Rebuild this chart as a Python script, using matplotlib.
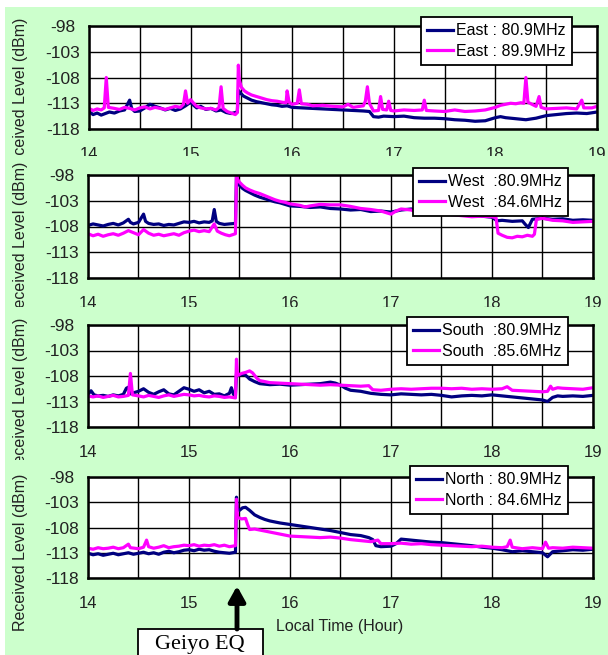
import numpy as np
import matplotlib
matplotlib.use("Agg")
import matplotlib.pyplot as plt
from matplotlib.patches import Rectangle

# ---- data (hour of day, received level in dBm) ----
east_a_t = [14.00, 14.04, 14.08, 14.12, 14.16, 14.20, 14.25, 14.30, 14.35, 14.40, 14.42, 14.45, 14.50,
            14.55, 14.60, 14.65, 14.70, 14.75, 14.80, 14.85, 14.90, 14.95, 15.00, 15.03, 15.06, 15.10,
            15.15, 15.20, 15.25, 15.30, 15.35, 15.40, 15.46, 15.47, 15.49, 15.52, 15.56, 15.60, 15.65,
            15.70, 15.75, 15.80, 15.85, 15.90, 15.95, 16.00, 16.1, 16.2, 16.3, 16.4, 16.5, 16.6, 16.7,
            16.76, 16.80, 16.85, 16.9, 17.0, 17.1, 17.2, 17.3, 17.4, 17.5, 17.6, 17.7, 17.8, 17.9, 18.0,
            18.05, 18.1, 18.2, 18.3, 18.4, 18.5, 18.6, 18.7, 18.8, 18.9, 19.0]
east_a_v = [-114.6, -115.2, -114.9, -115.3, -115.0, -114.7, -114.9, -114.5, -114.3, -112.4, -114.0, -114.6,
            -114.5, -113.9, -113.2, -113.6, -113.9, -114.3, -114.0, -114.4, -114.1, -113.5, -112.8, -113.4,
            -113.9, -113.6, -114.2, -114.0, -114.5, -114.3, -114.8, -115.0, -114.7, -110.5, -111.0, -111.6,
            -112.0, -112.4, -112.7, -112.9, -113.1, -113.3, -113.4, -113.6, -113.5, -113.8, -113.9, -114.0,
            -114.1, -114.2, -114.3, -114.4, -114.5, -114.6, -115.6, -115.7, -115.5, -115.6, -115.5, -115.8,
            -115.9, -115.9, -116.0, -116.2, -116.3, -116.5, -116.4, -115.8, -115.6, -115.8, -116.0, -116.2,
            -115.9, -115.4, -115.2, -115.0, -114.9, -115.0, -114.7]

east_b_t = [14.00, 14.04, 14.08, 14.12, 14.15, 14.17, 14.19, 14.25, 14.30, 14.35, 14.40, 14.45, 14.50,
            14.55, 14.60, 14.65, 14.70, 14.75, 14.80, 14.85, 14.90, 14.93, 14.95, 14.97, 15.00, 15.03,
            15.06, 15.10, 15.15, 15.20, 15.25, 15.28, 15.30, 15.32, 15.36, 15.40, 15.44, 15.46, 15.47,
            15.48, 15.50, 15.53, 15.56, 15.60, 15.65, 15.70, 15.75, 15.80, 15.85, 15.90, 15.94, 15.95,
            15.97, 16.00, 16.05, 16.07, 16.09, 16.15, 16.2, 16.3, 16.4, 16.5, 16.55, 16.6, 16.7, 16.72,
            16.74, 16.76, 16.80, 16.85, 16.87, 16.89, 16.93, 16.95, 16.97, 17.0, 17.1, 17.2, 17.28, 17.30,
            17.32, 17.4, 17.5, 17.6, 17.7, 17.8, 17.9, 18.0, 18.05, 18.1, 18.15, 18.2, 18.25, 18.28, 18.30,
            18.32, 18.36, 18.40, 18.43, 18.45, 18.5, 18.6, 18.7, 18.8, 18.85, 18.87, 18.95, 19.0]
east_b_v = [-114.0, -114.4, -114.1, -114.3, -113.9, -108.0, -113.8, -114.0, -114.2, -113.8, -114.0, -114.3,
            -113.9, -113.7, -114.1, -113.8, -114.0, -114.2, -113.9, -113.6, -113.8, -113.2, -110.6, -113.0,
            -112.3, -113.0, -113.6, -113.9, -114.1, -114.0, -114.3, -113.8, -109.8, -114.0, -114.6, -114.9,
            -115.2, -114.8, -105.6, -108.5, -109.9, -110.6, -111.0, -111.4, -111.7, -112.0, -112.3, -112.5,
            -112.6, -112.8, -112.9, -110.6, -112.8, -113.2, -113.0, -110.4, -113.1, -113.2, -113.5, -113.4,
            -113.6, -113.7, -113.2, -113.8, -113.5, -112.6, -109.8, -113.0, -114.5, -114.4, -111.7, -114.2,
            -114.3, -112.6, -114.4, -114.5, -114.3, -114.4, -114.3, -112.4, -114.4, -114.5, -114.6, -114.3,
            -114.6, -114.5, -114.3, -113.8, -113.4, -113.2, -113.0, -113.1, -112.9, -113.0, -108.0, -112.8,
            -113.2, -113.6, -111.7, -113.8, -114.1, -114.0, -113.9, -114.1, -112.4, -113.9, -113.9, -113.6]

west_a_t = [14.00, 14.05, 14.1, 14.15, 14.2, 14.25, 14.3, 14.35, 14.40, 14.42, 14.45, 14.50, 14.55, 14.57,
            14.6, 14.65, 14.7, 14.75, 14.8, 14.85, 14.9, 14.95, 15.0, 15.05, 15.1, 15.15, 15.2, 15.23,
            15.25, 15.27, 15.3, 15.35, 15.4, 15.46, 15.47, 15.48, 15.50, 15.53, 15.56, 15.60, 15.65, 15.70,
            15.75, 15.80, 15.85, 15.9, 15.95, 16.0, 16.1, 16.2, 16.3, 16.4, 16.5, 16.6, 16.7, 16.8, 16.9,
            17.0, 17.1, 17.2, 17.3, 17.4, 17.5, 17.6, 17.7, 17.8, 17.9, 18.0, 18.05, 18.1, 18.2, 18.3,
            18.33, 18.36, 18.40, 18.45, 18.5, 18.6, 18.7, 18.8, 18.9, 19.0]
west_a_v = [-107.8, -107.5, -107.7, -107.9, -107.6, -107.4, -107.7, -107.3, -106.6, -107.2, -107.5, -107.2,
            -105.6, -107.0, -107.4, -107.6, -107.5, -107.8, -107.6, -107.7, -107.4, -107.1, -107.2, -107.0,
            -107.3, -107.1, -107.2, -106.9, -104.7, -107.0, -107.4, -107.6, -107.5, -107.4, -98.2, -99.0,
            -100.0, -100.6, -101.0, -101.4, -101.9, -102.3, -102.6, -102.9, -103.2, -103.4, -103.7, -104.0,
            -104.1, -104.3, -104.2, -104.5, -104.6, -104.8, -104.7, -105.1, -105.0, -105.2, -104.8, -104.6,
            -104.9, -105.1, -105.3, -105.5, -105.7, -105.9, -106.0, -106.2, -106.9, -106.8, -107.0, -106.9,
            -107.6, -108.2, -106.6, -106.5, -106.4, -106.6, -106.5, -106.8, -106.7, -106.8]

west_b_t = [14.00, 14.05, 14.1, 14.15, 14.2, 14.25, 14.3, 14.35, 14.4, 14.45, 14.5, 14.55, 14.6, 14.65,
            14.7, 14.75, 14.8, 14.85, 14.9, 14.95, 15.0, 15.05, 15.1, 15.15, 15.2, 15.25, 15.28, 15.32,
            15.36, 15.4, 15.46, 15.47, 15.48, 15.50, 15.53, 15.56, 15.60, 15.65, 15.70, 15.75, 15.80, 15.85,
            15.9, 15.95, 16.0, 16.1, 16.15, 16.2, 16.3, 16.4, 16.5, 16.6, 16.7, 16.8, 16.9, 17.0, 17.05,
            17.1, 17.2, 17.3, 17.4, 17.5, 17.6, 17.7, 17.8, 17.9, 18.0, 18.04, 18.06, 18.1, 18.15, 18.2,
            18.25, 18.3, 18.35, 18.40, 18.42, 18.44, 18.5, 18.6, 18.7, 18.8, 18.9, 19.0]
west_b_v = [-109.4, -109.8, -109.5, -109.9, -109.6, -109.4, -109.7, -109.3, -108.8, -109.2, -109.6, -108.6,
            -109.3, -109.7, -109.5, -109.8, -109.6, -109.4, -109.7, -109.2, -108.9, -108.7, -109.0, -108.8,
            -109.0, -107.5, -108.9, -109.3, -109.6, -109.8, -109.4, -97.8, -98.8, -99.4, -100.0, -100.5,
            -100.9, -101.3, -101.6, -102.0, -102.4, -102.8, -103.1, -103.3, -103.6, -103.9, -104.2, -104.0,
            -103.7, -103.8, -103.8, -104.1, -104.5, -104.7, -105.0, -105.6, -105.0, -104.6, -104.8, -105.5,
            -105.6, -105.4, -105.7, -105.9, -106.1, -106.0, -106.1, -106.3, -109.3, -109.7, -110.1, -110.2,
            -109.9, -110.0, -109.7, -109.9, -109.5, -106.6, -106.4, -106.8, -106.9, -107.2, -107.1, -107.0]

south_a_t = [14.00, 14.03, 14.06, 14.1, 14.15, 14.2, 14.25, 14.3, 14.35, 14.38, 14.40, 14.42, 14.45, 14.5,
             14.55, 14.6, 14.65, 14.7, 14.75, 14.8, 14.85, 14.9, 14.95, 15.0, 15.05, 15.1, 15.15, 15.2,
             15.25, 15.3, 15.35, 15.40, 15.42, 15.44, 15.46, 15.47, 15.5, 15.55, 15.58, 15.6, 15.65, 15.7,
             15.75, 15.8, 15.9, 16.0, 16.1, 16.2, 16.3, 16.4, 16.45, 16.5, 16.55, 16.6, 16.7, 16.8, 16.9,
             17.0, 17.1, 17.2, 17.3, 17.4, 17.5, 17.6, 17.7, 17.8, 17.9, 18.0, 18.1, 18.2, 18.3, 18.4,
             18.5, 18.55, 18.6, 18.65, 18.7, 18.8, 18.9, 19.0]
south_a_v = [-111.6, -110.9, -111.7, -111.9, -111.8, -112.0, -111.7, -111.9, -111.6, -110.4, -110.2, -111.5,
             -111.3, -111.0, -110.5, -111.2, -111.6, -111.1, -110.7, -111.5, -111.7, -111.0, -110.3, -110.6,
             -111.0, -110.7, -111.3, -111.0, -111.6, -111.5, -111.9, -111.4, -110.3, -111.6, -111.8, -107.6,
             -107.8, -107.7, -108.2, -108.6, -109.1, -109.5, -109.6, -109.7, -109.6, -109.8, -109.7, -109.6,
             -109.5, -109.2, -109.4, -109.8, -110.4, -110.8, -111.0, -111.4, -111.6, -111.7, -111.5, -111.6,
             -111.7, -111.6, -111.8, -112.1, -111.9, -111.8, -111.9, -111.7, -111.9, -112.1, -112.3, -112.5,
             -112.7, -113.0, -112.2, -111.9, -112.0, -111.9, -112.0, -111.8]

south_b_t = [14.00, 14.05, 14.1, 14.15, 14.2, 14.25, 14.3, 14.35, 14.40, 14.42, 14.44, 14.5, 14.55, 14.6,
             14.65, 14.7, 14.75, 14.8, 14.85, 14.9, 14.95, 15.0, 15.05, 15.1, 15.15, 15.2, 15.25, 15.3,
             15.35, 15.4, 15.46, 15.47, 15.48, 15.52, 15.56, 15.60, 15.63, 15.67, 15.7, 15.75, 15.8, 15.9,
             16.0, 16.1, 16.2, 16.3, 16.4, 16.5, 16.6, 16.7, 16.78, 16.82, 16.9, 17.0, 17.1, 17.2, 17.3,
             17.4, 17.5, 17.6, 17.7, 17.8, 17.9, 18.0, 18.1, 18.15, 18.2, 18.3, 18.4, 18.5, 18.55, 18.58,
             18.6, 18.65, 18.7, 18.8, 18.9, 19.0]
south_b_v = [-111.9, -112.1, -111.9, -112.2, -112.0, -111.8, -112.1, -112.0, -111.8, -107.5, -111.7, -111.9,
             -112.1, -111.8, -112.0, -112.2, -111.9, -111.7, -112.0, -111.8, -111.6, -111.7, -111.9, -111.8,
             -112.0, -112.1, -111.9, -112.0, -112.2, -112.1, -112.3, -104.7, -107.9, -107.5, -107.3, -107.0,
             -107.4, -108.4, -108.9, -109.1, -109.3, -109.4, -109.5, -109.6, -109.7, -109.8, -109.7, -109.8,
             -109.9, -110.0, -109.9, -110.7, -110.8, -110.6, -110.5, -110.6, -110.5, -110.4, -110.4, -110.5,
             -110.4, -110.6, -110.5, -110.6, -110.5, -110.1, -110.8, -110.9, -111.0, -111.1, -111.0, -110.0,
             -110.6, -110.3, -110.4, -110.5, -110.6, -110.3]

north_a_t = [14.0, 14.05, 14.1, 14.15, 14.2, 14.25, 14.3, 14.35, 14.4, 14.45, 14.5, 14.55, 14.6, 14.65,
             14.7, 14.75, 14.8, 14.85, 14.9, 14.95, 15.0, 15.05, 15.1, 15.15, 15.2, 15.25, 15.3, 15.35,
             15.4, 15.46, 15.47, 15.48, 15.5, 15.53, 15.56, 15.6, 15.65, 15.7, 15.75, 15.8, 15.85, 15.9,
             16.0, 16.1, 16.2, 16.3, 16.4, 16.5, 16.6, 16.7, 16.78, 16.82, 16.85, 16.9, 17.0, 17.05, 17.1,
             17.2, 17.3, 17.4, 17.5, 17.6, 17.7, 17.8, 17.9, 18.0, 18.1, 18.2, 18.3, 18.4, 18.5, 18.55,
             18.6, 18.7, 18.8, 18.9, 19.0]
north_a_v = [-113.1, -113.4, -113.2, -113.5, -113.3, -113.1, -113.4, -113.2, -113.0, -113.3, -113.1, -112.9,
             -113.2, -113.0, -113.3, -112.9, -112.7, -113.0, -112.8, -112.5, -112.4, -112.6, -112.3, -112.5,
             -112.4, -112.7, -112.9, -113.0, -113.1, -112.9, -102.0, -104.4, -104.6, -104.1, -104.0, -104.6,
             -105.5, -106.0, -106.4, -106.7, -106.9, -107.1, -107.4, -107.7, -108.0, -108.3, -108.6, -109.0,
             -109.4, -109.6, -110.0, -110.4, -111.6, -111.8, -111.7, -111.2, -110.3, -110.5, -110.7, -110.9,
             -111.0, -111.2, -111.4, -111.6, -111.9, -112.1, -112.4, -112.8, -112.6, -112.8, -113.0, -113.8,
             -112.8, -112.6, -112.4, -112.5, -112.3]

north_b_t = [14.0, 14.05, 14.1, 14.15, 14.2, 14.25, 14.3, 14.35, 14.4, 14.42, 14.5, 14.55, 14.58, 14.6,
             14.65, 14.7, 14.75, 14.8, 14.85, 14.9, 14.95, 15.0, 15.05, 15.1, 15.15, 15.2, 15.25, 15.3,
             15.35, 15.4, 15.46, 15.47, 15.48, 15.52, 15.56, 15.58, 15.6, 15.65, 15.7, 15.8, 15.9, 16.0,
             16.1, 16.2, 16.3, 16.4, 16.5, 16.6, 16.7, 16.8, 16.87, 16.9, 17.0, 17.1, 17.2, 17.3, 17.4,
             17.5, 17.6, 17.7, 17.8, 17.9, 18.0, 18.1, 18.15, 18.18, 18.2, 18.3, 18.4, 18.5, 18.53, 18.56,
             18.6, 18.7, 18.8, 18.9, 19.0]
north_b_v = [-112.1, -112.3, -112.0, -112.2, -112.1, -111.9, -112.2, -112.0, -111.3, -112.0, -112.2, -111.9,
             -110.5, -111.8, -112.1, -111.9, -111.6, -112.0, -111.8, -111.7, -111.5, -111.6, -111.4, -111.7,
             -111.5, -111.6, -111.4, -111.7, -111.5, -111.8, -111.6, -102.4, -106.0, -106.3, -106.2, -107.4,
             -108.4, -108.3, -108.5, -108.9, -109.3, -109.7, -109.8, -109.9, -110.0, -109.9, -110.1, -110.4,
             -110.6, -110.8, -110.5, -111.2, -111.2, -111.1, -111.3, -111.2, -111.4, -111.5, -111.6, -111.7,
             -111.8, -111.7, -111.9, -112.0, -111.8, -110.5, -111.9, -112.2, -112.0, -112.2, -110.9, -112.1,
             -112.0, -112.1, -111.9, -112.0, -112.1]

panels = [
    ((east_a_t, east_a_v, "East : 80.9MHz"), (east_b_t, east_b_v, "East : 89.9MHz")),
    ((west_a_t, west_a_v, "West  :80.9MHz"), (west_b_t, west_b_v, "West  :84.6MHz")),
    ((south_a_t, south_a_v, "South  :80.9MHz"), (south_b_t, south_b_v, "South  :85.6MHz")),
    ((north_a_t, north_a_v, "North : 80.9MHz"), (north_b_t, north_b_v, "North : 84.6MHz")),
]
y_ticks = [-118, -113, -108, -103, -98]
x_ticks = [14, 15, 16, 17, 18, 19]

# ---- layout in pixels of a 608x655 picture ----
W, H = 608, 655
axes_px = [(89, 597, 26, 129), (88, 593, 175, 278), (88, 593, 325, 427), (88, 593, 477, 578)]
strips_px = [(7, 156), (156, 307), (307, 460), (460, 655)]
legend_px = [(572, 17), (568, 168), (568, 317), (568, 466)]
ylab_pos = [0.32, 0.37, 0.30, 0.25]

plt.rcParams['font.family'] = ['Liberation Sans', 'DejaVu Sans']
plt.rcParams['axes.unicode_minus'] = False

fig = plt.figure(figsize=(W / 100, H / 100), dpi=100, facecolor='white')

for i, ((ta, va, la), (tb, vb, lb)) in enumerate(panels):
    s0, s1 = strips_px[i]
    fig.patches.append(Rectangle((5 / W, 1 - s1 / H), (W - 5) / W, (s1 - s0) / H,
                                 transform=fig.transFigure, facecolor='#CCFFCC',
                                 edgecolor='none', zorder=i - 0.5))
    l, r, t, b = axes_px[i]
    ax = fig.add_axes([l / W, 1 - b / H, (r - l) / W, (b - t) / H], zorder=i)
    ax.set_facecolor('white')
    ax.plot(ta, va, color='#000080', lw=2.3, label=la)
    ax.plot(tb, vb, color='#FF00FF', lw=2.3, label=lb)
    ax.set_xlim(14, 19)
    ax.set_ylim(-118, -98)
    ax.set_yticks(y_ticks)
    ax.set_yticklabels([str(v) for v in y_ticks])
    ax.set_xticks(x_ticks)
    ax.set_xticklabels([str(v) for v in x_ticks])
    ax.set_xticks(np.arange(14.5, 19, 1.0), minor=True)
    ax.grid(True, which='both', color='black', lw=1.0)
    ax.set_axisbelow(True)
    ax.tick_params(which='both', length=0, labelsize=12, colors='#222222')
    ax.tick_params(axis='x', pad=13)
    ax.tick_params(axis='y', pad=19, labelsize=12.5)
    for lab in ax.get_yticklabels():
        lab.set_horizontalalignment('center')
    for sp in ax.spines.values():
        sp.set_linewidth(1.8)
    ax.set_ylabel("Received Level (dBm)", fontsize=11.5, color='#222222')
    ax.yaxis.set_label_coords((28 - l) / (r - l), ylab_pos[i])
    lx, ly = legend_px[i]
    leg = ax.legend(loc='upper right', bbox_to_anchor=(lx / W, 1 - ly / H),
                    bbox_transform=fig.transFigure, fontsize=11.5, frameon=True,
                    fancybox=False, framealpha=1, edgecolor='black', borderpad=0.4,
                    labelspacing=0.35, handlelength=1.6, handletextpad=0.2,
                    borderaxespad=0)
    leg.get_frame().set_linewidth(1.3)
    leg.set_zorder(5)

fig.text(340 / W, 1 - 627 / H, "Local Time (Hour)", ha='center', va='center',
         fontsize=11.5, color='#222222', zorder=10)

# Geiyo EQ marker
fig.patches.append(Rectangle((138 / W, 1 - 660 / H), 125 / W, 31 / H, transform=fig.transFigure,
                             facecolor='white', edgecolor='black', lw=1.3, zorder=10))
fig.text(200 / W, 1 - 644 / H, "Geiyo EQ", ha='center', va='center', fontsize=16,
         family='Liberation Serif', zorder=11)
ann = fig.add_artist(plt.Annotation('', xy=(237, H - 586), xycoords='figure pixels',
                                    xytext=(237, H - 629), textcoords='figure pixels',
                                    arrowprops=dict(arrowstyle='-|>,head_width=0.5,head_length=0.9',
                                                    lw=3.5, color='black', shrinkA=0, shrinkB=0)))
ann.set_zorder(11)

fig.savefig("out.png", dpi=100, facecolor='white')
